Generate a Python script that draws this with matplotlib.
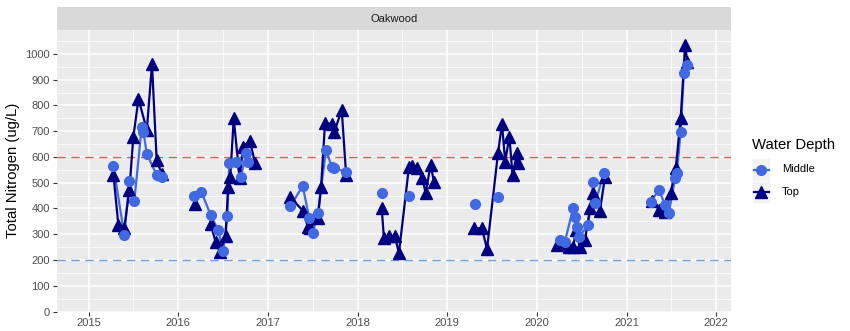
import numpy as np
import pandas as pd
import matplotlib
matplotlib.use("Agg")
import matplotlib.pyplot as plt
import matplotlib.dates as mdates
from matplotlib.lines import Line2D
from matplotlib.patches import Rectangle
from matplotlib.ticker import MultipleLocator

plt.rcParams['font.family'] = ['Liberation Sans', 'DejaVu Sans']

site = "Oakwood"

# total nitrogen (ug/L), top of the water column
top_dates = ["2015-04-12", "2015-05-02", "2015-05-26", "2015-06-16", "2015-07-02",
             "2015-07-23", "2015-08-26", "2015-09-16", "2015-10-05", "2015-10-26",
             "2016-03-11", "2016-05-12", "2016-06-01", "2016-06-18", "2016-07-12",
             "2016-07-22", "2016-07-31", "2016-08-14", "2016-09-07", "2016-09-21",
             "2016-10-18", "2016-11-10",
             "2017-04-02", "2017-05-22", "2017-06-12", "2017-06-22", "2017-07-23",
             "2017-08-05", "2017-08-21", "2017-09-18", "2017-09-28", "2017-10-28",
             "2017-11-15",
             "2018-04-09", "2018-04-18", "2018-05-09", "2018-06-02", "2018-06-18",
             "2018-07-29", "2018-08-12", "2018-09-01", "2018-09-22", "2018-10-05",
             "2018-10-25", "2018-11-08",
             "2019-04-18", "2019-05-22", "2019-06-12", "2019-07-27", "2019-08-12",
             "2019-08-25", "2019-09-11", "2019-09-24", "2019-10-12", "2019-10-16",
             "2020-03-22", "2020-04-16", "2020-05-12", "2020-05-28", "2020-06-08",
             "2020-06-25", "2020-07-15", "2020-08-05", "2020-08-18", "2020-09-14",
             "2020-10-05",
             "2021-04-16", "2021-05-13", "2021-06-06", "2021-06-29", "2021-07-20",
             "2021-08-09", "2021-08-27", "2021-09-05"]
top_tn = [530, 336, 324, 472, 678, 825, 705, 961, 588, 534,
          418, 340, 271, 232, 293, 483, 523, 750, 517, 640, 663, 575,
          443, 392, 330, 323, 362, 485, 733, 728, 698, 783, 530,
          401, 284, 293, 293, 226, 562, 565, 556, 517, 459, 569, 504,
          323, 323, 243, 617, 728, 582, 679, 530, 614, 575,
          258, 265, 249, 249, 316, 249, 278, 401, 459, 392, 524,
          430, 394, 388, 459, 556, 750, 1035, 970]

# total nitrogen (ug/L), middle depth
middle_dates = ["2015-04-12", "2015-05-26", "2015-06-16", "2015-07-06", "2015-08-05",
                "2015-08-12", "2015-08-26", "2015-10-05", "2015-10-28",
                "2016-03-05", "2016-04-04", "2016-05-12", "2016-06-11", "2016-07-02",
                "2016-07-19", "2016-07-27", "2016-08-25", "2016-09-11", "2016-10-05",
                "2016-10-12",
                "2017-04-02", "2017-05-22", "2017-06-18", "2017-07-02", "2017-07-23",
                "2017-08-25", "2017-09-18", "2017-09-26", "2017-11-15",
                "2018-04-09", "2018-07-29",
                "2019-04-22", "2019-07-27",
                "2020-04-04", "2020-04-24", "2020-05-28", "2020-06-04", "2020-06-11",
                "2020-06-22", "2020-07-28", "2020-08-18", "2020-08-25", "2020-10-01",
                "2021-04-09", "2021-05-13", "2021-06-06", "2021-06-22", "2021-07-17",
                "2021-07-24", "2021-08-09", "2021-08-22", "2021-09-05"]
middle_tn = [565, 297, 507, 429, 717, 698, 612, 530, 523,
             450, 465, 375, 317, 236, 371, 575, 582, 521, 614, 582,
             410, 487, 362, 304, 384, 627, 560, 556, 543,
             461, 449,
             416, 446,
             278, 271, 401, 368, 329, 291, 336, 504, 420, 539,
             427, 472, 414, 384, 517, 537, 698, 927, 957]

upper_ref = 600
lower_ref = 200

middle_col = "#4169E1"
top_col = "#000080"


def runs(dates, vals, max_gap=60):
    # split a series wherever sampling stops for a while
    d = pd.to_datetime(dates).values
    v = np.array(vals, dtype=float)
    gap = np.diff(d) / np.timedelta64(1, "D")
    cut = np.where(gap > max_gap)[0] + 1
    return zip(np.split(d, cut), np.split(v, cut))


W, H = 850, 331
fig = plt.figure(figsize=(W / 100, H / 100), dpi=100)
px_l, px_r, px_t, px_b = 57, 731, 30, 311.5
ax = fig.add_axes([px_l / W, (H - px_b) / H, (px_r - px_l) / W, (px_b - px_t) / H])
ax.set_facecolor("#EBEBEB")
for s in ax.spines.values():
    s.set_visible(False)

ax.set_xlim(pd.Timestamp("2014-08-25"), pd.Timestamp("2022-03-02"))
ax.set_ylim(0, 1093)
ax.xaxis.set_major_locator(mdates.YearLocator())
ax.xaxis.set_minor_locator(mdates.MonthLocator(bymonth=7))
ax.xaxis.set_major_formatter(mdates.DateFormatter("%Y"))
ax.yaxis.set_major_locator(MultipleLocator(100))
ax.yaxis.set_minor_locator(MultipleLocator(50))
ax.grid(which="major", color="white", lw=1.1)
ax.grid(which="minor", color="white", lw=0.55)
ax.set_axisbelow(True)
ax.tick_params(which="major", length=3, width=0.8, color="#333333",
               labelcolor="#4D4D4D", labelsize=8, pad=2)
ax.tick_params(which="minor", length=0)

ax.axhline(upper_ref, color="#D0605E", lw=1.0, ls=(0, (6, 4)), zorder=2)
ax.axhline(lower_ref, color="#6F9FDC", lw=1.0, ls=(0, (6, 4)), zorder=2)

for d, v in runs(middle_dates, middle_tn):
    ax.plot(d, v, color=middle_col, lw=1.6, zorder=3)
for d, v in runs(top_dates, top_tn):
    ax.plot(d, v, color=top_col, lw=1.6, zorder=3)
ax.plot(pd.to_datetime(top_dates), top_tn, ls="none", marker="^", ms=8,
        color=top_col, zorder=4)
ax.plot(pd.to_datetime(middle_dates), middle_tn, ls="none", marker="o", ms=7,
        color=middle_col, zorder=5)

ax.set_ylabel("Total Nitrogen (ug/L)", fontsize=10.7, color="black", labelpad=4)

# facet strip
strip = fig.add_axes([px_l / W, (H - px_t) / H, (px_r - px_l) / W, 23 / H])
strip.set_facecolor("#D9D9D9")
strip.set_xticks([])
strip.set_yticks([])
for s in strip.spines.values():
    s.set_visible(False)
strip.text(0.5, 0.5, site, ha="center", va="center", fontsize=8, color="#1A1A1A")

# legend
def fx(x):
    return x / W

def fy(y):
    return (H - y) / H

fig.text(fx(752), fy(145), "Water Depth", fontsize=10.7, ha="left", va="center")
keys = [("Middle", middle_col, "o", 7, 169.5), ("Top", top_col, "^", 8, 192)]
for lab, col, mk, ms, yc in keys:
    fig.add_artist(Rectangle((fx(752), fy(yc + 11.2)), 18 / W, 22.4 / H,
                             transform=fig.transFigure, facecolor="#F2F2F2",
                             edgecolor="white", lw=0.5))
    fig.add_artist(Line2D([fx(753.5), fx(768.5)], [fy(yc), fy(yc)],
                          transform=fig.transFigure, color=col, lw=1.6))
    fig.add_artist(Line2D([fx(761)], [fy(yc)], transform=fig.transFigure,
                          color=col, marker=mk, ms=ms, ls="none"))
    fig.text(fx(782), fy(yc), lab, fontsize=8, ha="left", va="center")

fig.savefig("out.png", dpi=100)
